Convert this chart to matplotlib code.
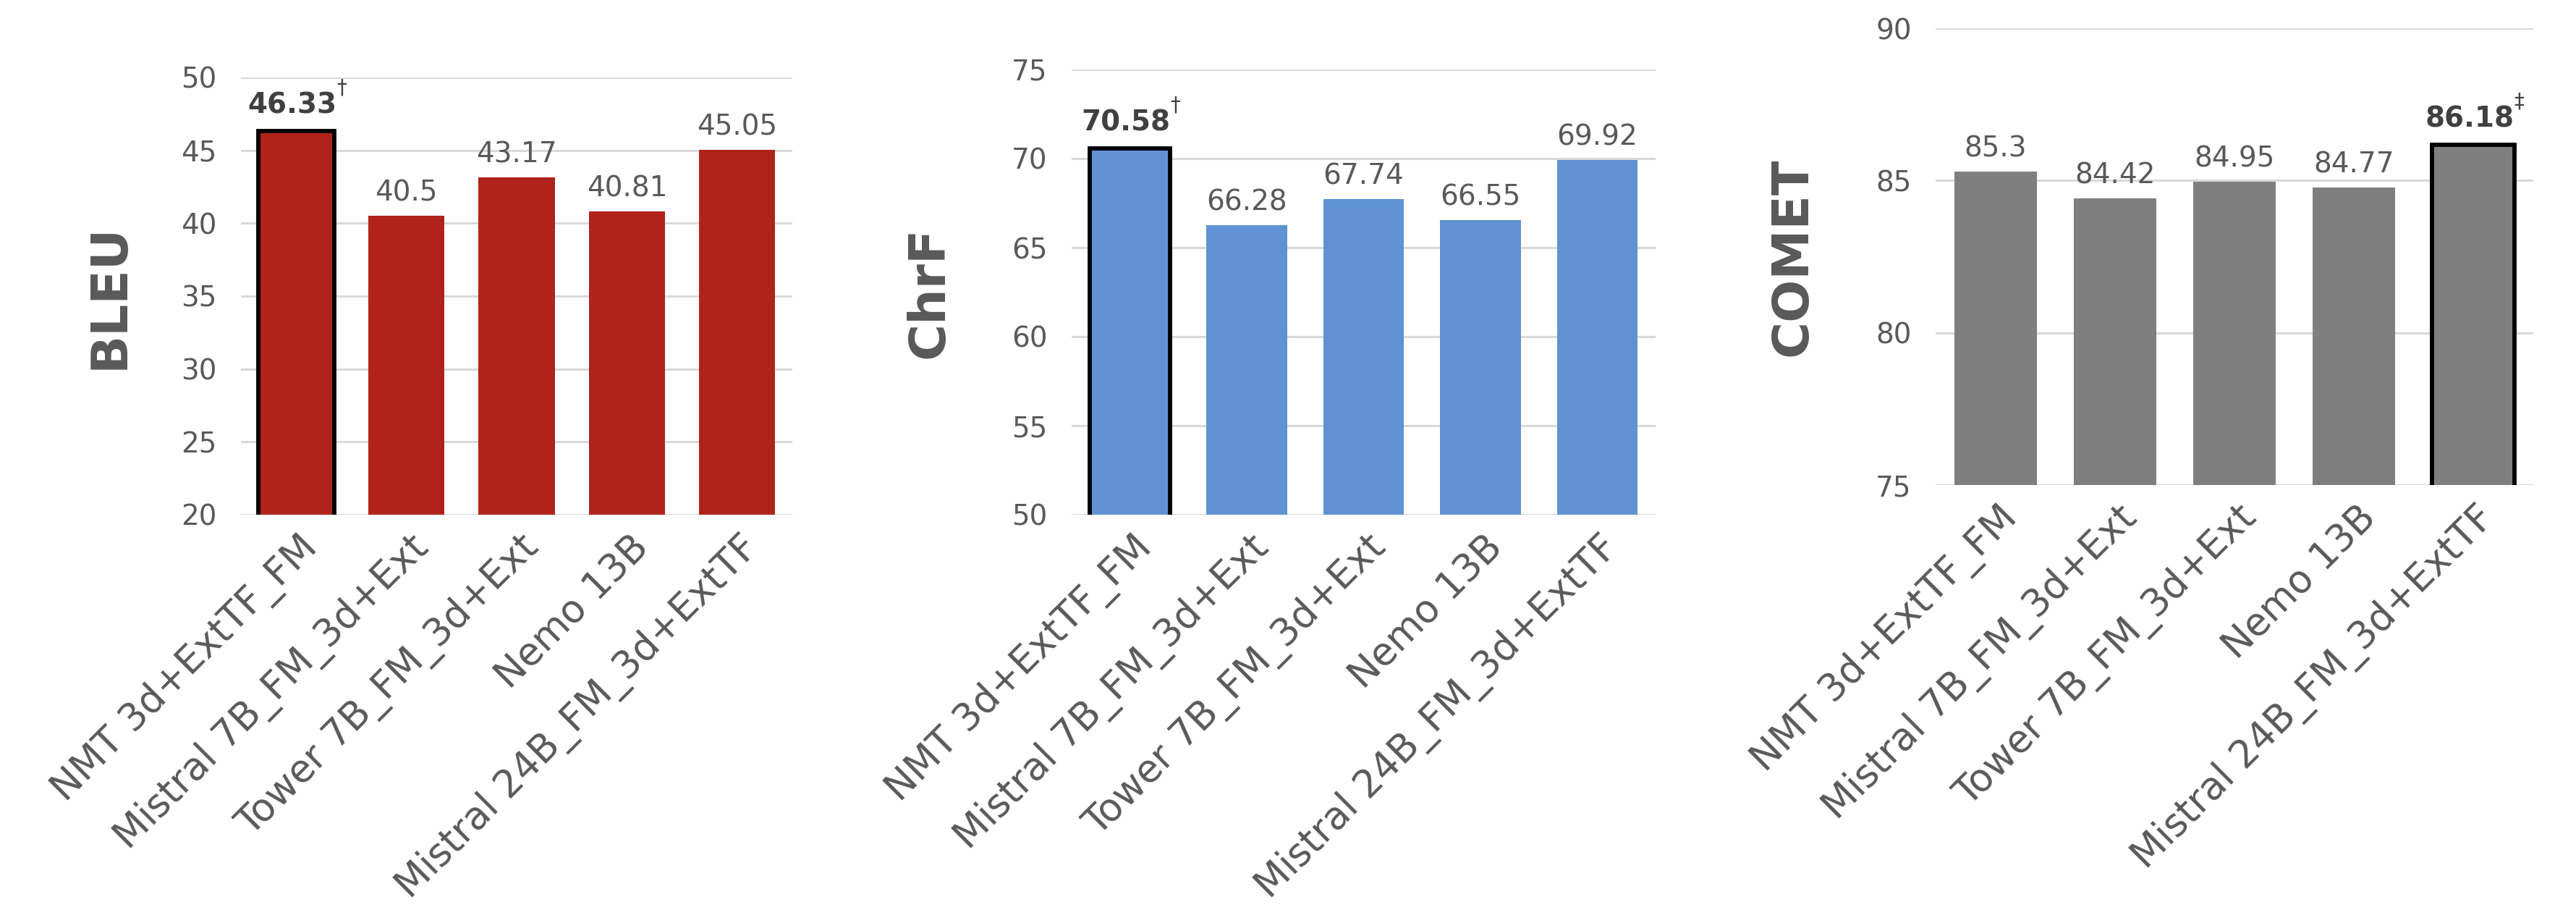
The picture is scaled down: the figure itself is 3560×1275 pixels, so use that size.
import matplotlib
matplotlib.use("Agg")
import matplotlib.pyplot as plt
from matplotlib.transforms import ScaledTranslation

models = ["NMT 3d+ExtTF_FM", "Mistral 7B_FM_3d+Ext", "Tower 7B_FM_3d+Ext",
          "Nemo 13B", "Mistral 24B_FM_3d+ExtTF"]
bleu = [46.33, 40.5, 43.17, 40.81, 45.05]
chrf = [70.58, 66.28, 67.74, 66.55, 69.92]
comet = [85.3, 84.42, 84.95, 84.77, 86.18]
bleu_ticks = [20, 25, 30, 35, 40, 45, 50]
chrf_ticks = [50, 55, 60, 65, 70, 75]
comet_ticks = [75, 80, 85, 90]
best_idx = {"BLEU": 0, "ChrF": 0, "COMET": 4}
marks = {"BLEU": "\u2020", "ChrF": "\u2020", "COMET": "\u2021"}

W, H = 3560, 1275
fig = plt.figure(figsize=(W / 100, H / 100), dpi=100)

TXT = "#595959"
GRID = "#D9D9D9"

panels = [
    ("BLEU", bleu, bleu_ticks, "#B0231A", (333, 1095, 107, 711), -0.239),
    ("ChrF", chrf, chrf_ticks, "#6092D3", (1481, 2288, 96, 711), -0.244),
    ("COMET", comet, comet_ticks, "#7F7F7F", (2675, 3501, 39, 670), -0.240),
]

for name, vals, ticks, color, (x0, x1, ytop, ybot), lx in panels:
    ax = fig.add_axes([x0 / W, (H - ybot) / H, (x1 - x0) / W, (ybot - ytop) / H])
    xs = list(range(len(models)))
    bi = best_idx[name]
    bars = ax.bar(xs, vals, width=0.69, color=color, zorder=3)
    bars[bi].set_edgecolor("black")
    bars[bi].set_linewidth(4.2)
    ax.set_xlim(-0.5, len(models) - 0.5)
    ax.set_ylim(ticks[0], ticks[-1])
    ax.set_yticks(ticks)
    ax.yaxis.grid(True, color=GRID, linewidth=2.2, zorder=0)
    ax.set_axisbelow(True)
    for s in ax.spines.values():
        s.set_visible(False)
    ax.tick_params(axis="y", length=0, pad=24, labelsize=28, labelcolor=TXT)
    ax.tick_params(axis="x", length=0, pad=27, labelsize=38, labelcolor=TXT)
    ax.set_xticks(xs)
    ax.set_xticklabels(models, rotation=45, ha="right", va="center",
                       rotation_mode="anchor")
    for lab in ax.get_xticklabels():
        lab.set_transform(lab.get_transform() +
                          ScaledTranslation(0.22, 0, fig.dpi_scale_trans))
    ax.text(lx, 0.5, name, transform=ax.transAxes, rotation=90,
            ha="center", va="center", fontsize=50, fontweight="bold", color=TXT)
    for i, v in enumerate(vals):
        if i == bi:
            t = ax.annotate(f"{v:g}", xy=(i, v), xytext=(-4, 12),
                            textcoords="offset points", ha="center", va="bottom",
                            fontsize=28, fontweight="bold", color="#404040")
            ax.annotate(marks[name], xy=(1.0, 0.75), xycoords=t,
                        ha="left", va="bottom", fontsize=20, color="#404040")
        else:
            ax.annotate(f"{v:g}", xy=(i, v), xytext=(0, 9),
                        textcoords="offset points", ha="center", va="bottom",
                        fontsize=28, color=TXT)

fig.savefig("out.png", dpi=100, facecolor="white")
